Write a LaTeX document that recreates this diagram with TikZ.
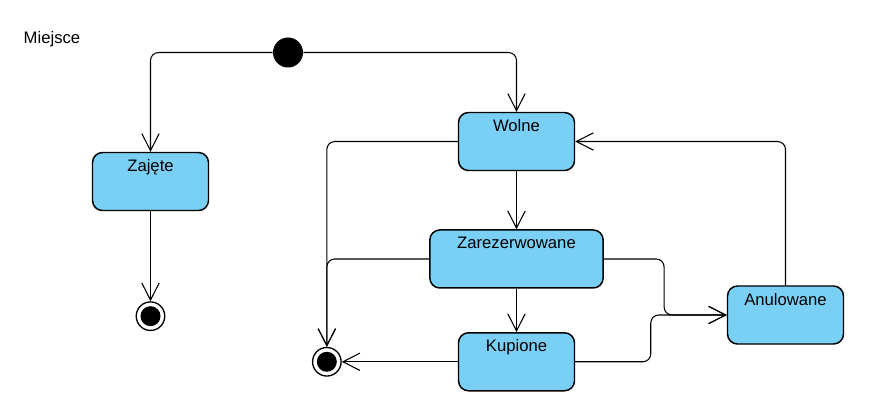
\documentclass[tikz,border=0pt]{standalone}
\usepackage{fontspec}
\setmainfont{Liberation Sans}
\usetikzlibrary{arrows.meta, positioning, calc}

\definecolor{stateblue}{RGB}{122,207,245}

\tikzset{
    state/.style={draw, line width=1.1pt, fill=stateblue, rounded corners=7.5pt,
        minimum width=87pt, inner xsep=0pt, inner ysep=5.25pt,
        text height=9pt, text depth=24pt},
    startdot/.style={circle, fill=black, minimum size=22.5pt, inner sep=0pt},
    enddot/.style={circle, draw, line width=1pt, minimum size=21.4pt, inner sep=0pt,
        path picture={\fill[black] (path picture bounding box.center) circle (7.5pt);}},
    flow/.style={line width=0.8pt, rounded corners=6pt,
        -{Straight Barb[length=12.75pt, width=13pt, line width=0.8pt]}}
}

\begin{document}
\begin{tikzpicture}[x=0.75pt, y=-0.75pt, every node/.style={font=\fontsize{12.5}{14}\selectfont}]
    \useasboundingbox (0,0) rectangle (884,408);

    \node (title) [anchor=west] at (19,39) {Miejsce};

    % states
    \node (start) [startdot] at (288,52.5) {};
    \node (zajete) [state] at (150.5,181.5) {Zajęte};
    \node (wolne) [state] at (516.5,141.5) {Wolne};
    \node (zarez) [state, minimum width=130pt, below=43.5pt of wolne] {Zarezerwowane};
    \node (kupione) [state, below=32.5pt of zarez] {Kupione};
    \node (anul) [state] at (785.5,315) {Anulowane};

    % final states
    \node (end1) [enddot, below=67.5pt of zajete] {};
    \node (end2) [enddot, left=87pt of kupione] {};

    % transitions
    \draw[flow] (start.west) -| (zajete.north);
    \draw[flow] (start.east) -| (wolne.north);
    \draw[flow] (zajete.south) -- (end1.north);
    \draw[flow] (wolne.west) -| (end2.north);
    \draw[flow] (zarez.west) -| (end2.north);
    \draw[flow] (wolne.south) -- (zarez.north);
    \draw[flow] (zarez.south) -- (kupione.north);
    \draw[flow] (kupione.west) -- (end2.east);
    \draw[flow] (zarez.east) -| ([xshift=-47pt]anul.west) -- (anul.west);
    \draw[flow] (kupione.east) -| ([xshift=-57pt]anul.west) -- (anul.west);
    \draw[flow] (anul.north) |- (wolne.east);

\end{tikzpicture}
\end{document}
